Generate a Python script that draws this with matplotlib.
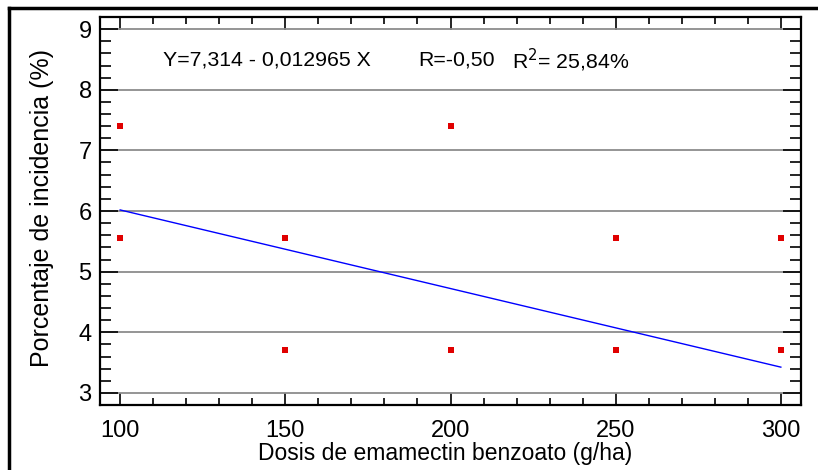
import numpy as np
import matplotlib.pyplot as plt
from matplotlib.lines import Line2D
from matplotlib.ticker import MultipleLocator

plt.rcParams['font.family'] = ['Liberation Sans', 'DejaVu Sans']

# observed incidence per dose
dosis = [100, 100, 150, 150, 200, 200, 250, 250, 300, 300]
incidencia = [7.40, 5.56, 5.56, 3.70, 7.40, 3.70, 5.56, 3.70, 5.56, 3.70]

# fitted model
intercepto = 7.314
pendiente = -0.012965

fig = plt.figure(figsize=(8.18, 4.70), dpi=100)
ax = fig.add_axes([100/818, 1 - 405/470, 701/818, 388/470])

ax.set_xlim(93.9, 306.1)
ax.set_ylim(2.8, 9.2)

ax.yaxis.set_major_locator(MultipleLocator(1))
ax.yaxis.set_minor_locator(MultipleLocator(0.2))
ax.xaxis.set_major_locator(MultipleLocator(50))
ax.xaxis.set_minor_locator(MultipleLocator(10))

ax.grid(axis='y', which='major', color='#8c8c8c', linewidth=1.3, zorder=0)

xfit = np.array([min(dosis), max(dosis)])
ax.plot(xfit, intercepto + pendiente * xfit, color='#0000ff', linewidth=1.0, zorder=2)
ax.scatter(dosis, incidencia, marker='s', s=22, color='#e00000', linewidths=0, zorder=3)

ax.tick_params(which='both', direction='in', top=True, right=True,
               width=1.2, color='black', labelsize=17)
ax.tick_params(axis='y', which='major', length=13, pad=6)
ax.tick_params(axis='y', which='minor', length=8)
ax.tick_params(axis='x', which='major', length=9, pad=11)
ax.tick_params(axis='x', which='minor', length=5)
for s in ax.spines.values():
    s.set_linewidth(1.6)

ax.set_xlabel('Dosis de emamectin benzoato (g/ha)', fontsize=16.5, va='center')
ax.xaxis.set_label_coords(0.492, -0.124)
ax.set_ylabel('Porcentaje de incidencia (%)', fontsize=18, va='center')
ax.yaxis.set_label_coords(-0.083, 0.509)

ty = 1 - 60/470
fig.text(163/818, ty, 'Y=7,314 - 0,012965 X', fontsize=15.3, va='center', ha='left')
fig.text(418/818, ty, 'R=-0,50', fontsize=15.3, va='center', ha='left')
fig.text(512/818, ty, 'R$^2$= 25,84%', fontsize=15.3, va='center', ha='left')

# frame on the left and top edges
fig.add_artist(Line2D([9/818, 9/818], [0, 1 - 8/470], color='black', linewidth=2.5,
                      transform=fig.transFigure))
fig.add_artist(Line2D([9/818, 1], [1 - 8/470, 1 - 8/470], color='black', linewidth=2.5,
                      transform=fig.transFigure))

fig.savefig('out.png', dpi=100)
